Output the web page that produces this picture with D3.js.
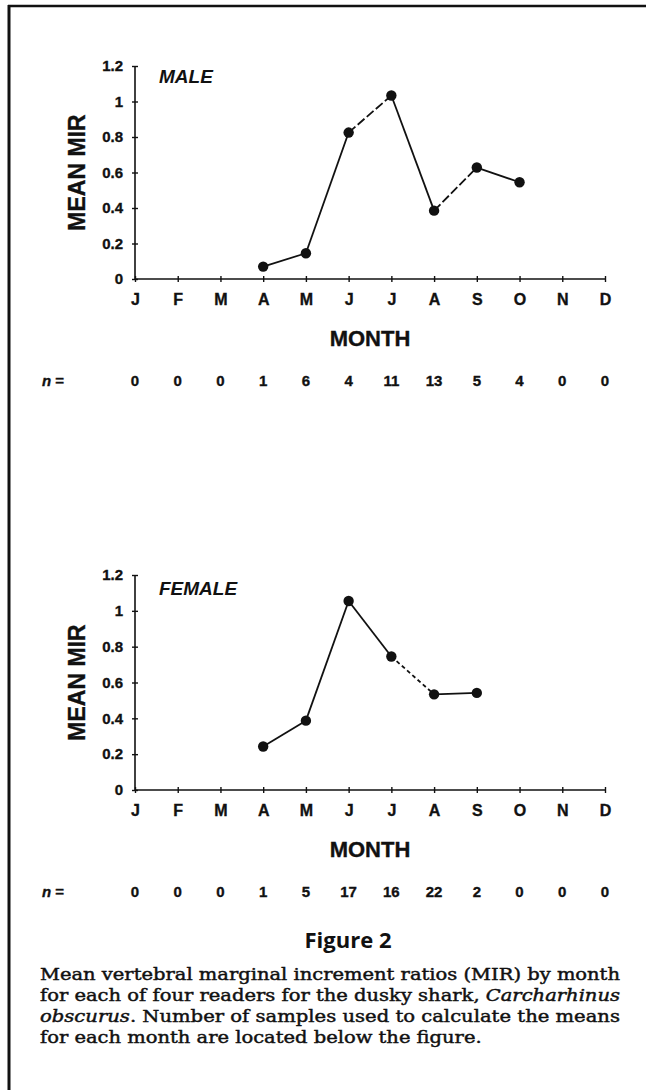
<!DOCTYPE html>
<html><head><meta charset="utf-8">
<script src="https://cdn.jsdelivr.net/npm/d3@7"></script>
<style>body{margin:0;background:#fff}svg{display:block}</style>
</head><body>
<svg id="c" width="646" height="1090"></svg>
<script>
// ---- data ----
const months = ["J","F","M","A","M","J","J","A","S","O","N","D"];
const yTicks = [0, 0.2, 0.4, 0.6, 0.8, 1, 1.2];
const yTickLabels = ["0","0.2","0.4","0.6","0.8","1","1.2"];
const maleMIR   = [null,null,null,0.07,0.145,0.825,1.034,0.385,0.628,0.545,null,null];
const femaleMIR = [null,null,null,0.243,0.387,1.055,0.745,0.534,0.542,null,null,null];
const maleN   = [0,0,0,1,6,4,11,13,5,4,0,0];
const femaleN = [0,0,0,1,5,17,16,22,2,0,0,0];
const figureTitle = "Figure 2";
const captionLines = [
  [{t:"Mean vertebral marginal increment ratios (MIR) by month"}],
  [{t:"for each of four readers for the dusky shark, "},{t:"Carcharhinus",i:true}],
  [{t:"obscurus",i:true},{t:". Number of samples used to calculate the means"}],
  [{t:"for each month are located below the figure."}]
];

// ---- styles (not data) ----
const maleDash = {5:"9,3", 7:"9,3"};
const femaleDash = {6:"4,3"};
const SANS = "'Liberation Sans', Arial, sans-serif";
const INK = "#111";

const svg = d3.select("#c");

// frame (top + left rules)
svg.append("line").attr("x1",8).attr("x2",646).attr("y1",6).attr("y2",6)
  .attr("stroke",INK).attr("stroke-width",2.5);
svg.append("line").attr("x1",9).attr("x2",9).attr("y1",5).attr("y2",1090)
  .attr("stroke",INK).attr("stroke-width",3);

const x = d3.scaleLinear().domain([0,11]).range([135,605]);

function boldText(sel, size){
  return sel.attr("font-family",SANS).attr("font-weight","bold").attr("font-size",size)
    .attr("fill",INK).attr("stroke",INK).attr("stroke-width",0.35);
}

function panel(vals, ns, label, yBottom, yTop, dashes, labelBase){
  const y = d3.scaleLinear().domain([0,1.2]).range([yBottom,yTop]);
  const g = svg.append("g");

  // y axis
  const ya = g.append("g").attr("transform",`translate(${x(0)},0)`)
    .call(d3.axisLeft(y).tickValues(yTicks).tickFormat((d,i)=>yTickLabels[i]).tickSize(3).tickPadding(9));
  ya.select(".domain").attr("stroke",INK).attr("stroke-width",1.6).attr("d",`M0,${yBottom}V${yTop}`);
  ya.selectAll(".tick line").attr("x1",-3).attr("x2",3).attr("stroke",INK).attr("stroke-width",1.4);
  boldText(ya.selectAll(".tick text"),15);

  // x axis
  const xa = g.append("g").attr("transform",`translate(0,${yBottom})`)
    .call(d3.axisBottom(x).tickValues(d3.range(12)).tickFormat(i=>months[i]).tickSize(3).tickPadding(12));
  xa.select(".domain").attr("stroke",INK).attr("stroke-width",1.6).attr("d",`M${x(0)},0H${x(11)}`);
  xa.selectAll(".tick line").attr("y1",-3).attr("y2",3).attr("stroke",INK).attr("stroke-width",1.4);
  boldText(xa.selectAll(".tick text"),16);

  // axis titles
  boldText(g.append("text").attr("transform",`translate(85,${(yBottom+yTop)/2}) rotate(-90)`)
    .attr("text-anchor","middle"),23).text("MEAN MIR");
  boldText(g.append("text").attr("x",(x(0)+x(11))/2).attr("y",yBottom+67)
    .attr("text-anchor","middle"),22).text("MONTH");

  // panel label
  g.append("text").attr("x",159).attr("y",labelBase)
    .attr("font-family",SANS).attr("font-weight","bold").attr("font-style","italic")
    .attr("font-size",19).attr("fill",INK).text(label);

  // line segments
  const pts = vals.map((v,i)=>({i,v})).filter(d=>d.v!==null);
  const line = d3.line().x(d=>x(d.i)).y(d=>y(d.v));
  for(let k=0;k<pts.length-1;k++){
    g.append("path").attr("d",line([pts[k],pts[k+1]])).attr("fill","none")
      .attr("stroke",INK).attr("stroke-width",1.8)
      .attr("stroke-dasharray",dashes[pts[k].i]||null);
  }
  g.selectAll("circle.pt").data(pts).join("circle").attr("class","pt")
    .attr("cx",d=>x(d.i)).attr("cy",d=>y(d.v)).attr("r",5.2).attr("fill",INK);

  // n row
  const nb = yBottom+107;
  const nl = boldText(g.append("text").attr("x",42).attr("y",nb),15);
  nl.append("tspan").attr("font-style","italic").text("n");
  nl.append("tspan").text(" =");
  boldText(g.selectAll("text.n").data(ns).join("text").attr("class","n")
    .attr("x",(d,i)=>x(i)).attr("y",nb).attr("text-anchor","middle"),15)
    .text(d=>d);
}

panel(maleMIR, maleN, "MALE", 279, 66, maleDash, 83);
panel(femaleMIR, femaleN, "FEMALE", 790, 575, femaleDash, 595);

// caption
svg.append("text").attr("x",348).attr("y",948).attr("text-anchor","middle")
  .attr("font-family","'Open Sans', 'Noto Sans', sans-serif").attr("font-weight","bold")
  .attr("font-size",22).attr("fill",INK).text(figureTitle);

let stretch = 1;
captionLines.forEach((parts,li)=>{
  const t = svg.append("text").attr("x",40).attr("y",980+li*21)
    .attr("font-family","'DejaVu Serif', serif").attr("font-size",16.5).attr("fill",INK)
    .attr("stroke",INK).attr("stroke-width",0.45);
  parts.forEach(p=>{
    const s = t.append("tspan").text(p.t);
    if(p.i) s.attr("font-style","italic");
  });
  const w = t.node().getComputedTextLength();
  if(li===0) stretch = 580 / w;
  const target = li<captionLines.length-1 ? 580 : w*stretch;
  t.attr("textLength",target).attr("lengthAdjust","spacingAndGlyphs");
});
</script>
</body></html>
